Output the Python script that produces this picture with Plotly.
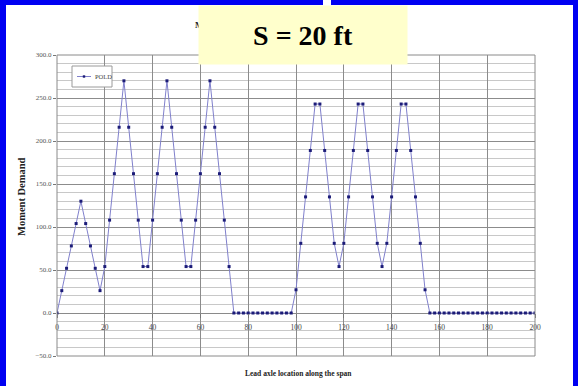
import plotly.graph_objects as go

# Lead axle location along the span (ft)
axle_location = list(range(0, 202, 2))

# Moment demand at each lead-axle position
moment_demand = [
    0, 26, 52, 78, 104, 130, 104, 78, 52, 26,
    54, 108, 162, 216, 270, 216, 162, 108, 54, 54,
    108, 162, 216, 270, 216, 162, 108, 54, 54, 108,
    162, 216, 270, 216, 162, 108, 54, 0, 0, 0,
    0, 0, 0, 0, 0, 0, 0, 0, 0, 0,
    27, 81, 135, 189, 243, 243, 189, 135, 81, 54,
    81, 135, 189, 243, 243, 189, 135, 81, 54, 81,
    135, 189, 243, 243, 189, 135, 81, 27, 0, 0,
    0, 0, 0, 0, 0, 0, 0, 0, 0, 0,
    0, 0, 0, 0, 0, 0, 0, 0, 0, 0, 0,
]

series_name = "POLD"
x_ticks = [0, 20, 40, 60, 80, 100, 120, 140, 160, 180, 200]
y_ticks = [-50, 0, 50, 100, 150, 200, 250, 300]

LINE_COLOR = "#8080cc"
MARKER_COLOR = "#1c1c78"

W, H = 578, 386
ML, MR, MT, MB = 57, 43, 55, 30
PW, PH = W - ML - MR, H - MT - MB
SERIF = "Liberation Serif, Times New Roman, serif"


def px(x):
    return (x - ML) / PW


def py(y):
    return (H - MB - y) / PH


fig = go.Figure()
fig.add_trace(go.Scatter(
    x=axle_location, y=moment_demand, name=series_name,
    mode="lines+markers", showlegend=False,
    line=dict(color=LINE_COLOR, width=1),
    marker=dict(color=MARKER_COLOR, size=3, symbol="square"),
))


def paper_rect(x0, y0, x1, y1, **kw):
    return dict(type="rect", xref="paper", yref="paper",
                x0=px(x0), x1=px(x1), y0=py(y1), y1=py(y0), **kw)


BLUE = "#0000f2"
shapes = [
    # plot-area frame
    dict(type="rect", xref="paper", yref="paper", x0=0, x1=1, y0=0, y1=1,
         line=dict(color="#8a8a8a", width=1), layer="above"),
    # blue slide frame
    paper_rect(0, 0, 6, H, fillcolor=BLUE, line=dict(width=0)),
    paper_rect(0, 0, 323, 5, fillcolor=BLUE, line=dict(width=0)),
    paper_rect(331, 0, W, 5, fillcolor=BLUE, line=dict(width=0)),
    paper_rect(573, 0, W, H, fillcolor=BLUE, line=dict(width=0)),
    # legend box with its line-and-marker key
    paper_rect(72, 66, 112, 87, fillcolor="white",
               line=dict(color="#9a9a9a", width=1), layer="above"),
    dict(type="line", xref="paper", yref="paper", layer="above",
         x0=px(77), x1=px(91), y0=py(76.5), y1=py(76.5),
         line=dict(color=LINE_COLOR, width=1)),
    paper_rect(82.8, 75.3, 85.2, 77.7, fillcolor=MARKER_COLOR,
               line=dict(width=0), layer="above"),
]

annotations = [
    # chart title, mostly covered by the label box
    dict(text="<b>M</b>", xref="paper", yref="paper",
         x=px(193), y=py(25), xanchor="left", yanchor="middle", showarrow=False,
         font=dict(family=SERIF, size=9, color="#222")),
    dict(text="<b>S = 20 ft</b>", xref="paper", yref="paper",
         x=px(198), y=py(5), xanchor="left", yanchor="top", showarrow=False,
         width=208, height=58, bgcolor="#ffffcc", borderpad=0,
         font=dict(family=SERIF, size=28, color="#000"), align="center", valign="middle"),
    dict(text=series_name, xref="paper", yref="paper",
         x=px(93), y=py(76.5), xanchor="left", yanchor="middle", showarrow=False,
         font=dict(family=SERIF, size=6.5, color="#444")),
    dict(text="<b>Lead axle location along the span</b>", xref="paper", yref="paper",
         x=px(298), y=py(373), xanchor="center", yanchor="middle", showarrow=False,
         font=dict(family=SERIF, size=7.5, color="#222")),
    dict(text="<b>Moment Demand</b>", xref="paper", yref="paper", textangle=-90,
         x=px(21), y=py(197), xanchor="center", yanchor="middle", showarrow=False,
         font=dict(family=SERIF, size=10.5, color="#222")),
]

fig.update_layout(
    width=W, height=H,
    margin=dict(l=ML, r=MR, t=MT, b=MB, pad=0),
    paper_bgcolor="white", plot_bgcolor="white",
    showlegend=False,
    shapes=shapes,
    annotations=annotations,
    xaxis=dict(range=[0, 200], tickvals=x_ticks, ticktext=[str(t) for t in x_ticks],
               showgrid=True, gridcolor="#8c8c8c", gridwidth=1,
               zeroline=False, showline=False,
               anchor="free", position=(0 - (-50)) / 350,
               ticks="outside", ticklen=4, tickcolor="#777", ticklabelstandoff=3,
               tickfont=dict(family=SERIF, size=7.5, color="#444")),
    yaxis=dict(range=[-50, 300], tickvals=y_ticks, tickformat=".1f",
               showgrid=True, gridcolor="#8c8c8c", gridwidth=1,
               zeroline=True, zerolinecolor="#8a8a8a", zerolinewidth=1,
               ticks="outside", ticklen=3, tickcolor="#777",
               minor=dict(dtick=10, showgrid=True, gridcolor="#c8c8c8", gridwidth=1),
               tickfont=dict(family=SERIF, size=7, color="#555")),
)

fig.write_html("out.html")
